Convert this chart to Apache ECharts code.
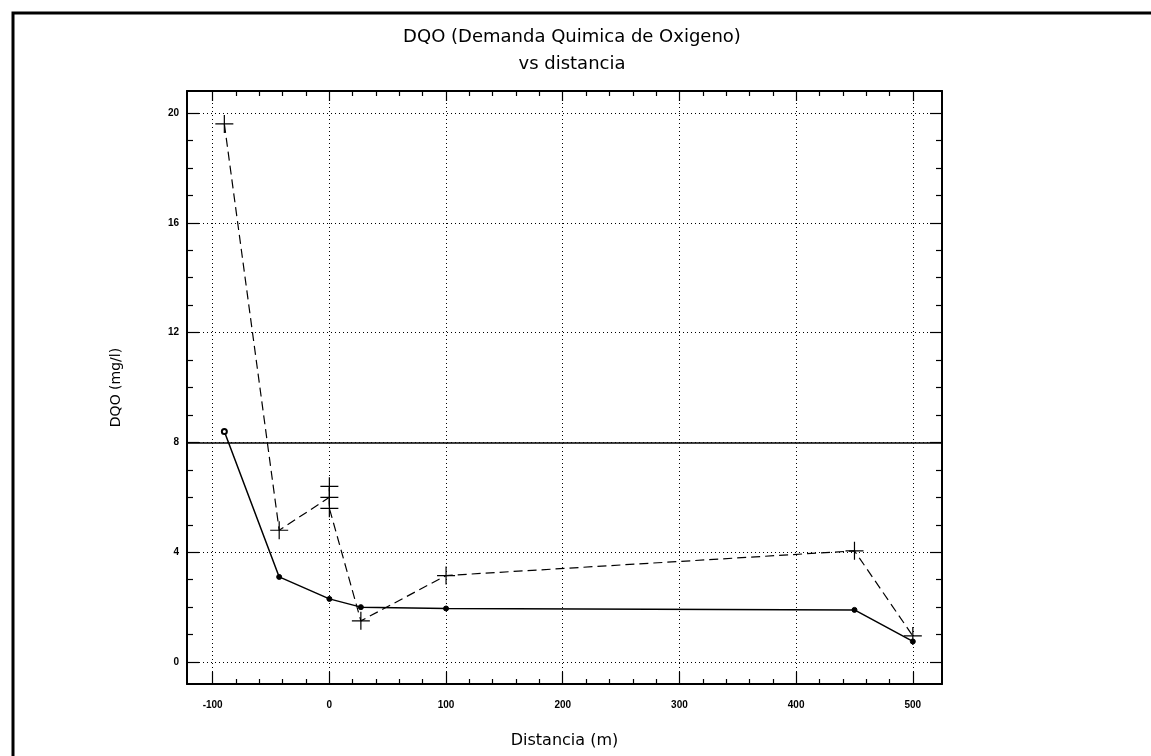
<!DOCTYPE html>
<html>
<head>
<meta charset="utf-8">
<script src="https://cdn.jsdelivr.net/npm/echarts@6/dist/echarts.min.js"></script>
<style>
html,body{margin:0;padding:0;background:#fff;}
#chart{width:1151px;height:756px;}
</style>
</head>
<body>
<div id="chart"></div>
<script>
// ---- data ----
const titleLine1 = 'DQO (Demanda Quimica de Oxigeno)';
const titleLine2 = 'vs distancia';
const xName = 'Distancia (m)';
const yName = 'DQO (mg/l)';

const xTicks = [-100, 0, 100, 200, 300, 400, 500];
const yTicks = [0, 4, 8, 12, 16, 20];

// solid series (dots)
const distSolid = [-90, -43, 0, 27, 100, 450, 500];
const dqoSolid  = [8.4, 3.1, 2.3, 2.0, 1.95, 1.9, 0.75];

// dashed series (crosses)
const distDashed = [-90, -43, 0, 0, 0, 27, 100, 450, 500];
const dqoDashed  = [19.6, 4.8, 6.0, 6.4, 5.6, 1.5, 3.15, 4.05, 0.95];

// reference (limit) line
const limitValue = 8;

// axis extents
const xMin = -122, xMax = 525;
const yMin = -0.8, yMax = 20.8;
const xMinorStep = 20, yMinorStep = 1;

// ---- build ----
function minorValues(ticks, step) {
  const out = [];
  for (let i = 0; i < ticks.length - 1; i++) {
    for (let v = ticks[i] + step; v < ticks[i + 1] - step / 2; v += step) out.push(v);
  }
  return out;
}
const xMinor = minorValues(xTicks, xMinorStep);
const yMinor = minorValues(yTicks, yMinorStep);

const solidPairs = distSolid.map((d, i) => [d, dqoSolid[i]]);
const dashedPairs = distDashed.map((d, i) => [d, dqoDashed[i]]);

const black = '#000';
const labelFont = { color: black, fontSize: 10, fontWeight: 'bold', fontFamily: 'Liberation Sans' };

function xAxisDef(position, ticks, len, major) {
  return {
    type: 'value', min: xMin, max: xMax, position: position, gridIndex: 0,
    name: (major && position === 'bottom') ? xName : '',
    nameLocation: 'middle', nameGap: 49,
    nameTextStyle: { color: black, fontSize: 16, fontFamily: 'DejaVu Sans' },
    axisLine: { show: major, onZero: false, lineStyle: { color: black, width: 2 } },
    axisTick: { show: true, inside: true, length: len, customValues: ticks, lineStyle: { color: black, width: 1.2 } },
    axisLabel: (major && position === 'bottom')
      ? Object.assign({ show: true, margin: 16, customValues: ticks }, labelFont)
      : { show: false },
    splitLine: (major && position === 'bottom')
      ? { show: true, lineStyle: { color: black, type: [1, 3], width: 1 } }
      : { show: false },
    minorTick: { show: false }
  };
}
function yAxisDef(position, ticks, len, major) {
  return {
    type: 'value', min: yMin, max: yMax, position: position, gridIndex: 0,
    name: (major && position === 'left') ? yName : '',
    nameLocation: 'middle', nameGap: 64,
    nameTextStyle: { color: black, fontSize: 14, fontFamily: 'DejaVu Sans' },
    axisLine: { show: major, onZero: false, lineStyle: { color: black, width: 2 } },
    axisTick: { show: true, inside: true, length: len, customValues: ticks, lineStyle: { color: black, width: 1.2 } },
    axisLabel: (major && position === 'left')
      ? Object.assign({ show: true, margin: 8, customValues: ticks }, labelFont)
      : { show: false },
    splitLine: (major && position === 'left')
      ? { show: true, lineStyle: { color: black, type: [1, 3], width: 1 } }
      : { show: false },
    minorTick: { show: false }
  };
}

const chart = echarts.init(document.getElementById('chart'), null, { renderer: 'canvas' });
chart.setOption({
  animation: false,
  backgroundColor: '#fff',
  title: {
    text: titleLine1 + '\n' + titleLine2,
    left: 567,
    textAlign: 'center',
    top: 19,
    textStyle: { color: black, fontSize: 18, fontWeight: 'normal', fontFamily: 'DejaVu Sans', lineHeight: 27 }
  },
  grid: { left: 187, top: 91, width: 755, height: 593, containLabel: false },
  xAxis: [
    xAxisDef('bottom', xTicks, 12, true),
    xAxisDef('bottom', xMinor, 5, false),
    xAxisDef('top', xTicks, 10, true),
    xAxisDef('top', xMinor, 5, false)
  ],
  yAxis: [
    yAxisDef('left', yTicks, 12, true),
    yAxisDef('left', yMinor, 6, false),
    yAxisDef('right', yTicks, 12, true),
    yAxisDef('right', yMinor, 6, false)
  ],
  graphic: [{
    type: 'polyline',
    shape: { points: [[1151, 13], [13, 13], [13, 756]] },
    style: { stroke: black, lineWidth: 3, fill: null },
    silent: true
  }],
  series: [
    {
      name: 'DQO 1', type: 'line', xAxisIndex: 0, yAxisIndex: 0,
      data: solidPairs,
      symbol: (v, p) => (p.dataIndex === 0 ? 'emptyCircle' : 'circle'),
      symbolSize: 5,
      itemStyle: { color: black, borderColor: black, borderWidth: 1 },
      lineStyle: { color: black, width: 1.5, type: 'solid' },
      markLine: {
        silent: true, symbol: 'none', label: { show: false },
        lineStyle: { color: black, width: 1.6, type: 'solid' },
        data: [{ yAxis: limitValue }]
      },
      z: 3
    },
    {
      name: 'DQO 2', type: 'line', xAxisIndex: 0, yAxisIndex: 0,
      data: dashedPairs,
      symbol: 'path://M0,10L20,10M10,0L10,20',
      symbolSize: 18,
      itemStyle: { color: 'rgba(0,0,0,0)', borderColor: black, borderWidth: 1.2 },
      lineStyle: { color: black, width: 1.2, type: [9, 5] },
      z: 4
    }
  ]
});
</script>
</body>
</html>
